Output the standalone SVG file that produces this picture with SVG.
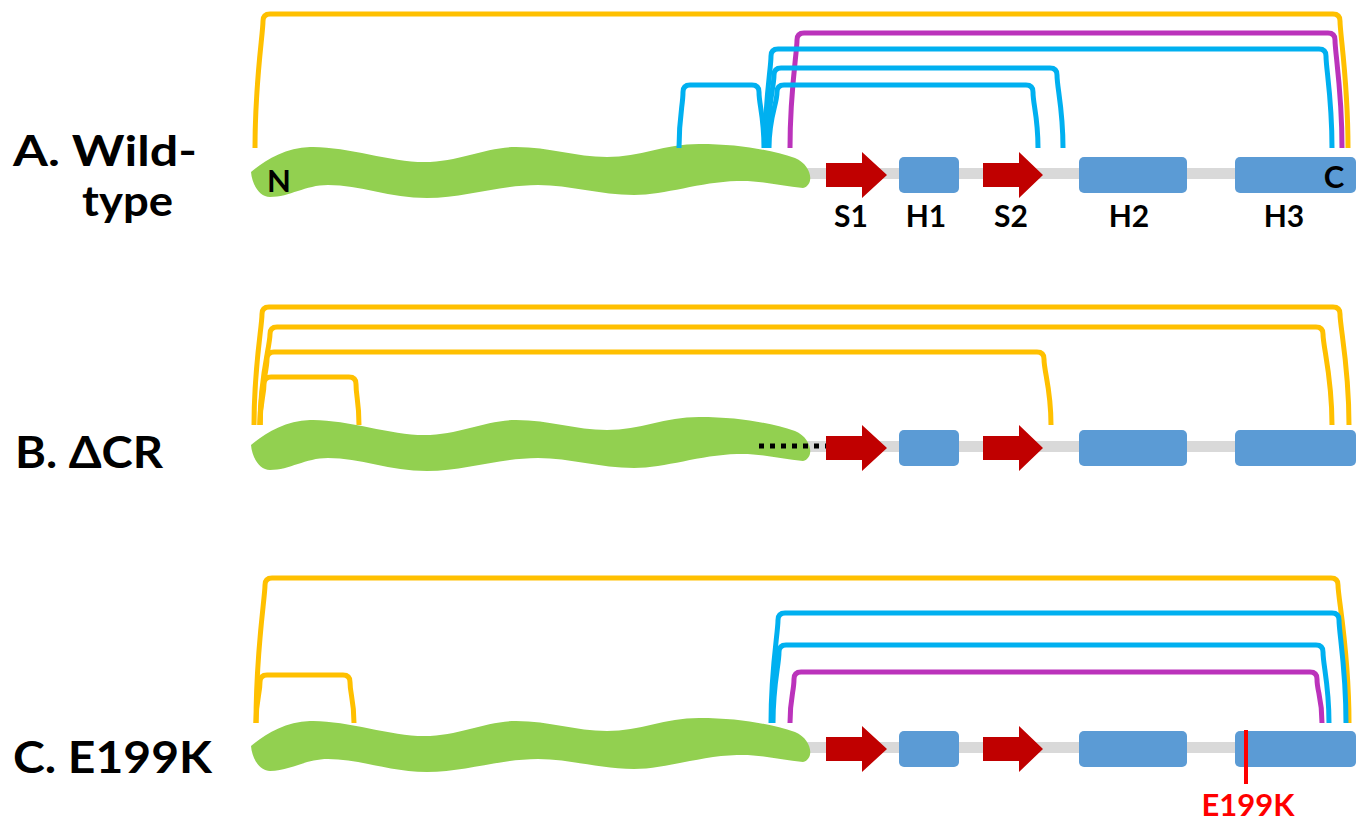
<svg xmlns="http://www.w3.org/2000/svg" xmlns:xlink="http://www.w3.org/1999/xlink" width="1364" height="821" viewBox="0 0 1364 821">
<style>
.lbl{font-family:Lato,"Liberation Sans",sans-serif;font-weight:700;fill:#000}
.big{font-size:44px}
.bigA{font-size:42px}
.sm{font-size:30px;text-anchor:middle}
.term{font-size:31px;text-anchor:middle}
.mut{font-family:Lato,"Liberation Sans",sans-serif;font-weight:700;font-size:31px;fill:#FF0000;text-anchor:middle}
.con{fill:none;stroke-width:5;stroke-linejoin:round}
.y{stroke:#FFC000}
.b{stroke:#00B0F0}
.p{stroke:#BB33BB}
.worm{fill:#92D050}
.strand{fill:#C00000}
.helix{fill:#5B9BD5}
.back{fill:#D9D9D9}
</style>
<defs>
<path id="wormShape" d="M 251 172 C 265 160, 285 148, 310 147 C 345 146, 390 162, 424 162 C 460 162, 485 147, 516 147 C 550 147, 575 157, 607 157 C 640 157, 665 144, 699 144 C 740 144, 770 150, 795 158 C 812 165, 815 185, 803 188 C 780 186, 760 180, 737 181 C 700 182, 665 195, 634 195 C 600 195, 570 185, 538 185 C 500 185, 465 198, 427 198 C 390 198, 360 185, 328 185 C 305 185, 290 197, 270 197 C 260 197, 252 185, 251 172 Z"/>
<g id="domain">
<rect class="back" x="790" y="168" width="555" height="11"/>
<polygon class="strand" points="826,163 862,163 862,152 887,175 862,198 862,187 826,187"/>
<rect class="helix" x="899" y="157" width="60" height="36" rx="5"/>
<polygon class="strand" points="983,163 1019,163 1019,152 1043,175 1019,198 1019,187 983,187"/>
<rect class="helix" x="1079" y="157" width="108" height="36" rx="5"/>
<rect class="helix" x="1235" y="157" width="121" height="36" rx="5"/>
</g>
</defs>

<g id="rowA">
<g id="labelA">
<text class="lbl bigA"><tspan x="13" y="166" textLength="184" lengthAdjust="spacingAndGlyphs">A. Wild-</tspan><tspan x="82" y="216" textLength="91" lengthAdjust="spacingAndGlyphs">type</tspan></text>
</g>
<g id="nodeA-domain"><use xlink:href="#domain"/></g>
<g id="nodeA-N"><use xlink:href="#wormShape" class="worm"/><text class="lbl term" x="279" y="192">N</text></g>
<g id="nodeA-C"><text class="lbl term" x="1334" y="188">C</text></g>
<g id="nodeA-labels">
<text class="lbl sm" x="851" y="227">S1</text>
<text class="lbl sm" x="926" y="227">H1</text>
<text class="lbl sm" x="1011" y="227">S2</text>
<text class="lbl sm" x="1129" y="227">H2</text>
<text class="lbl sm" x="1284" y="227">H3</text>
</g>
</g>

<g id="rowB">
<text class="lbl big" x="15" y="468" textLength="148" lengthAdjust="spacingAndGlyphs">B. ΔCR</text>
<g id="nodeB-domain" transform="translate(0,273)"><use xlink:href="#domain"/><use xlink:href="#wormShape" class="worm"/></g>
<line id="deletion" x1="759" y1="446" x2="826" y2="446" stroke="#000" stroke-width="5" stroke-dasharray="5 6"/>
</g>

<g id="rowC">
<text class="lbl big" x="13" y="773" textLength="199" lengthAdjust="spacingAndGlyphs">C. E199K</text>
<g id="nodeC-domain" transform="translate(0,574)"><use xlink:href="#domain"/><use xlink:href="#wormShape" class="worm"/></g>
<g id="mutation">
<line x1="1246" y1="730" x2="1246" y2="784" stroke="#FF0000" stroke-width="4"/>
<text class="mut" x="1248" y="816">E199K</text>
</g>
</g>

<g id="connectors">
<path class="con p" d="M 790 148 C 790 90, 797 53, 797 40 Q 797 33, 804 33 H 1328 Q 1335 33, 1335 40 C 1335 53, 1342 90, 1342 148"/>
<path class="con b" d="M 765 148 C 765 98, 771 69, 771 56 Q 771 49, 778 49 H 1319 Q 1326 49, 1326 56 C 1326 69, 1332 98, 1332 148"/>
<path class="con b" d="M 767 148 C 767 108, 774 88, 774 75 Q 774 68, 781 68 H 1050 Q 1057 68, 1057 75 C 1057 88, 1063 108, 1063 148"/>
<path class="con b" d="M 769 148 C 769 116, 777 105, 777 92 Q 777 85, 784 85 H 1026 Q 1033 85, 1033 92 C 1033 105, 1038 116, 1038 148"/>
<path class="con b" d="M 679 148 C 679 116, 683 105, 683 92 Q 683 85, 690 85 H 752 Q 759 85, 759 92 C 759 105, 764 116, 764 148"/>
<path class="con y" d="M 255 148 C 255 81, 263 34, 263 21 Q 263 14, 270 14 H 1333 Q 1340 14, 1340 21 C 1340 34, 1348 81, 1348 148"/>
<path class="con y" d="M 254 425 C 254 366, 262 327, 262 314 Q 262 307, 269 307 H 1333 Q 1340 307, 1340 314 C 1340 327, 1349 366, 1349 425"/>
<path class="con y" d="M 260 425 C 260 376, 270 347, 270 334 Q 270 327, 277 327 H 1316 Q 1323 327, 1323 334 C 1323 347, 1332 376, 1332 425"/>
<path class="con y" d="M 260 425 C 260 388, 267 372, 267 359 Q 267 352, 274 352 H 1037 Q 1044 352, 1044 359 C 1044 372, 1051 388, 1051 425"/>
<path class="con y" d="M 260 425 C 260 401, 264 397, 264 384 Q 264 377, 271 377 H 349 Q 356 377, 356 384 C 356 397, 359 401, 359 425"/>
<path class="con y" d="M 256 723 C 256 650, 265 598, 265 585 Q 265 578, 272 578 H 1331 Q 1338 578, 1338 585 C 1338 598, 1349 650, 1349 723"/>
<path class="con y" d="M 256 723 C 256 699, 260 695, 260 682 Q 260 675, 267 675 H 343 Q 350 675, 350 682 C 350 695, 354 699, 354 723"/>
<path class="con b" d="M 771 723 C 771 668, 778 633, 778 620 Q 778 613, 785 613 H 1332 Q 1339 613, 1339 620 C 1339 633, 1346 668, 1346 723"/>
<path class="con b" d="M 773 723 C 773 684, 779 665, 779 652 Q 779 645, 786 645 H 1316 Q 1323 645, 1323 652 C 1323 665, 1329 684, 1329 723"/>
<path class="con p" d="M 790 723 C 790 697, 794 692, 794 679 Q 794 672, 801 672 H 1310 Q 1317 672, 1317 679 C 1317 692, 1322 697, 1322 723"/>
</g>
</svg>
